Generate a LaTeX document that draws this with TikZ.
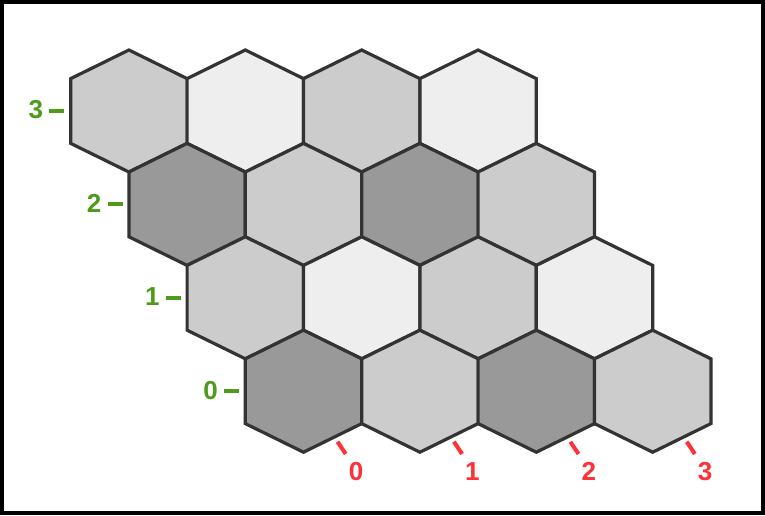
\documentclass[tikz,border=0pt]{standalone}
\usepackage{fontspec}
\setmainfont{Liberation Sans}
\usetikzlibrary{calc}
\definecolor{edgegray}{HTML}{333333}
\definecolor{gA}{HTML}{EEEEEE}
\definecolor{gB}{HTML}{CCCCCC}
\definecolor{gC}{HTML}{999999}
\definecolor{axgreen}{HTML}{4E9A1A}
\definecolor{axred}{HTML}{FF3038}
\tikzset{
  hexcell/.style={draw=edgegray, line width=3.2pt, line join=miter},
  rowtick/.style={draw=axgreen, line width=4pt},
  coltick/.style={draw=axred, line width=4pt},
  rowlabel/.style={text=axgreen, font=\fontsize{26}{26}\selectfont\bfseries, inner sep=0pt, anchor=center},
  collabel/.style={text=axred, font=\fontsize{26}{26}\selectfont\bfseries, inner sep=0pt, anchor=center}
}
\begin{document}
\begin{tikzpicture}[x=1pt,y=-1pt]
\useasboundingbox (0,0) rectangle (765,515);
\fill[white] (0,0) rectangle (765,515);
\draw[line width=4pt] (2,2) rectangle (763,513);
\foreach \r/\c/\f in {3/0/gB,3/1/gA,3/2/gB,3/3/gA,
                      2/0/gC,2/1/gB,2/2/gC,2/3/gB,
                      1/0/gB,1/1/gA,1/2/gB,1/3/gA,
                      0/0/gC,0/1/gB,0/2/gC,0/3/gB}{
  \pgfmathsetmacro\cx{128.9+(3-\r)*58.2+2*\c*58.2}
  \pgfmathsetmacro\cy{111+(3-\r)*93.4}
  \coordinate (h\r\c) at (\cx,\cy);
  \filldraw[hexcell, fill=\f, shift={(h\r\c)}]
    (0,-61) -- (58.2,-32.4) -- (58.2,32.4) -- (0,61) -- (-58.2,32.4) -- (-58.2,-32.4) -- cycle;
}
\foreach \r in {0,1,2,3}{
  \draw[rowtick] ($(h\r0)+(-79.6,0)$) -- ($(h\r0)+(-64.6,0)$);
  \node[rowlabel] (rowlab\r) at ($(h\r0)+(-93,-1)$) {\r};
}
\foreach \c in {0,1,2,3}{
  \draw[coltick] ($(h0\c)+(34,50.5)$) -- ($(h0\c)+(42.2,62.8)$);
  \node[collabel] (collab\c) at ($(h0\c)+(52.5,80)$) {\c};
}
\end{tikzpicture}
\end{document}
